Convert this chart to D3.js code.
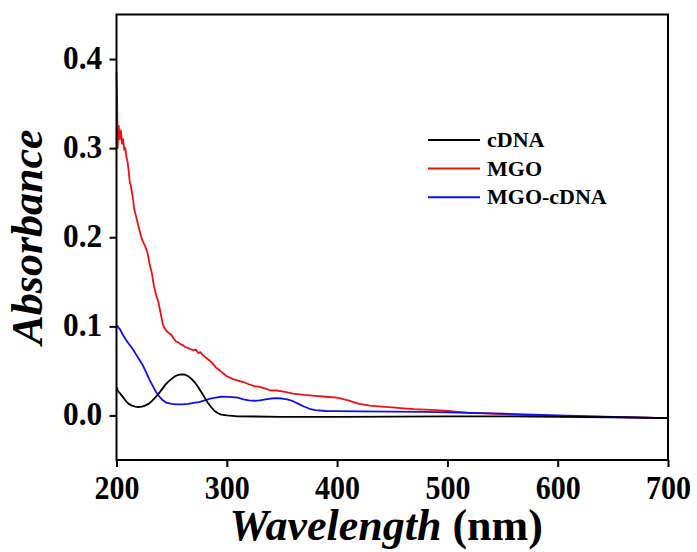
<!DOCTYPE html>
<html>
<head>
<meta charset="utf-8">
<script src="https://cdn.jsdelivr.net/npm/d3@7"></script>
<style>
  body { margin: 0; background: #fff; }
  svg text { font-family: "Liberation Serif", "Times New Roman", serif; font-weight: bold; }
</style>
</head>
<body>
<div id="chart"></div>
<script>
// UV-Vis spectra, values
var cdnaWl = [200, 201, 203, 205, 208, 211, 214, 217, 220, 223, 226, 229, 232, 235, 238, 241, 244, 247, 250, 253, 256, 259, 262, 265, 268, 271, 274, 277, 280, 283, 286, 289, 292, 295, 300, 310, 350, 400, 500, 550, 600, 650, 700];
var cdnaAbs = [0.032, 0.028, 0.025, 0.022, 0.017, 0.013, 0.011, 0.010, 0.0095, 0.010, 0.011, 0.013, 0.016, 0.020, 0.024, 0.029, 0.034, 0.038, 0.041, 0.044, 0.0455, 0.046, 0.0458, 0.044, 0.041, 0.037, 0.032, 0.026, 0.020, 0.014, 0.009, 0.005, 0.0025, 0.001, 0.0, -0.001, -0.0015, -0.0015, -0.001, -0.001, -0.0015, -0.002, -0.003];

var mgoWl = [200, 200.5, 201, 202, 203, 204, 205, 206, 207, 208, 209, 210, 211, 212, 213, 214, 215, 216, 218, 220, 222, 224, 226, 228, 230, 232, 234, 236, 238, 240, 242, 244, 246, 248, 250, 252, 254, 256, 258, 260, 262, 264, 266, 268, 270, 272, 274, 276, 278, 280, 282, 284, 286, 288, 290, 292, 294, 296, 298, 300, 305, 310, 315, 320, 325, 330, 335, 340, 345, 350, 355, 360, 370, 380, 390, 400, 410, 420, 430, 440, 450, 460, 470, 480, 490, 500, 520, 540, 560, 580, 600, 620, 640, 660, 680, 700];
var mgoAbs = [0.385, 0.36, 0.30, 0.325, 0.31, 0.32, 0.305, 0.31, 0.298, 0.30, 0.29, 0.285, 0.275, 0.262, 0.258, 0.25, 0.243, 0.232, 0.222, 0.212, 0.202, 0.195, 0.19, 0.183, 0.17, 0.16, 0.145, 0.135, 0.127, 0.115, 0.102, 0.097, 0.094, 0.092, 0.09, 0.086, 0.083, 0.082, 0.080, 0.079, 0.077, 0.076, 0.075, 0.074, 0.073, 0.074, 0.070, 0.071, 0.068, 0.066, 0.064, 0.062, 0.060, 0.057, 0.054, 0.052, 0.050, 0.048, 0.046, 0.044, 0.041, 0.039, 0.0375, 0.035, 0.033, 0.032, 0.030, 0.028, 0.028, 0.027, 0.026, 0.0245, 0.023, 0.022, 0.021, 0.020, 0.017, 0.013, 0.011, 0.010, 0.009, 0.008, 0.007, 0.0065, 0.006, 0.005, 0.003, 0.002, 0.001, 0.0, -0.0005, -0.001, -0.0015, -0.002, -0.0025, -0.003];

var mixWl = [200, 203, 206, 209, 212, 215, 218, 221, 224, 227, 230, 233, 236, 239, 242, 245, 250, 255, 260, 265, 270, 275, 280, 285, 290, 295, 300, 305, 310, 315, 320, 325, 330, 335, 340, 345, 350, 355, 360, 365, 370, 375, 380, 390, 400, 420, 450, 480, 500, 550, 600, 650, 700];
var mixAbs = [0.101, 0.097, 0.090, 0.084, 0.079, 0.074, 0.068, 0.062, 0.056, 0.048, 0.040, 0.033, 0.026, 0.021, 0.017, 0.0145, 0.013, 0.0125, 0.0125, 0.013, 0.014, 0.015, 0.017, 0.019, 0.020, 0.021, 0.0208, 0.0205, 0.020, 0.018, 0.017, 0.0165, 0.017, 0.018, 0.019, 0.0195, 0.019, 0.018, 0.016, 0.013, 0.010, 0.0075, 0.006, 0.005, 0.0048, 0.0045, 0.0042, 0.004, 0.0035, 0.002, 0.0, -0.0015, -0.003];

var seriesNames = ["cDNA", "MGO", "MGO-cDNA"];
var seriesColors = ["#000000", "#ee1111", "#1010ee"];
var xTicks = [200, 300, 400, 500, 600, 700];
var yTicks = [0.0, 0.1, 0.2, 0.3, 0.4];

var W = 697, H = 552;
var margin = {left: 116.5, right: 29, top: 14.5, bottom: 92};

var svg = d3.select("#chart").append("svg")
  .attr("width", W)
  .attr("height", H);

var x = d3.scaleLinear().domain([200, 700]).range([margin.left, W - margin.right]);
var y = d3.scaleLinear().domain([-0.05, 0.45]).range([H - margin.bottom, margin.top]);

var series = [
  {wl: cdnaWl, abs: cdnaAbs},
  {wl: mgoWl, abs: mgoAbs},
  {wl: mixWl, abs: mixAbs}
];

var line = d3.line()
  .x(function (d) { return x(d[0]); })
  .y(function (d) { return y(d[1]); });

// draw spectra (red first so black/blue sit over it like the original)
[1, 2, 0].forEach(function (i) {
  var s = series[i];
  svg.append("path")
    .datum(d3.zip(s.wl, s.abs))
    .attr("fill", "none")
    .attr("stroke", seriesColors[i])
    .attr("stroke-width", 1.8)
    .attr("stroke-linejoin", "round")
    .attr("d", line);
});

// frame
svg.append("rect")
  .attr("x", x(200)).attr("y", y(0.45))
  .attr("width", x(700) - x(200)).attr("height", y(-0.05) - y(0.45))
  .attr("fill", "none").attr("stroke", "#000").attr("stroke-width", 2);

// axes
var xAxis = d3.axisBottom(x).tickValues(xTicks).tickSize(7).tickPadding(9).tickFormat(d3.format("d"));
var gx = svg.append("g").attr("transform", "translate(0," + y(-0.05) + ")").call(xAxis);
gx.select(".domain").remove();
gx.selectAll(".tick line").attr("stroke-width", 2);
gx.selectAll(".tick text")
  .attr("font-size", 33).attr("font-family", "Liberation Serif").attr("font-weight", "bold").attr("fill", "#000")
  .attr("transform", "scale(0.91,1)");

var yAxis = d3.axisLeft(y).tickValues(yTicks).tickSize(7).tickPadding(8).tickFormat(d3.format(".1f"));
var gy = svg.append("g").attr("transform", "translate(" + x(200) + ",0)").call(yAxis);
gy.select(".domain").remove();
gy.selectAll(".tick line").attr("stroke-width", 2);
gy.selectAll(".tick text")
  .attr("font-size", 33).attr("font-family", "Liberation Serif").attr("font-weight", "bold").attr("fill", "#000")
  .attr("dy", "0.28em")
  .attr("transform", "scale(0.95,1)");

// axis titles
var xt = svg.append("text")
  .attr("x", (x(200) + x(700)) / 2 - 6)
  .attr("y", 540)
  .attr("text-anchor", "middle")
  .attr("font-size", 44);
xt.append("tspan").attr("font-style", "italic").text("Wavelength");
xt.append("tspan").text(" (nm)");

svg.append("text")
  .attr("transform", "translate(42," + 237 + ") rotate(-90)")
  .attr("text-anchor", "middle")
  .attr("font-size", 44)
  .attr("font-style", "italic")
  .text("Absorbance");

// legend
var legend = svg.append("g").attr("transform", "translate(428,140)");
seriesNames.forEach(function (name, i) {
  var row = legend.append("g").attr("transform", "translate(0," + i * 28.6 + ")");
  row.append("line")
    .attr("x1", 0).attr("x2", 52).attr("y1", 0).attr("y2", 0)
    .attr("stroke", seriesColors[i]).attr("stroke-width", 2);
  row.append("text")
    .attr("x", 59).attr("y", 7)
    .attr("font-size", 22)
    .text(name);
});
</script>
</body>
</html>
